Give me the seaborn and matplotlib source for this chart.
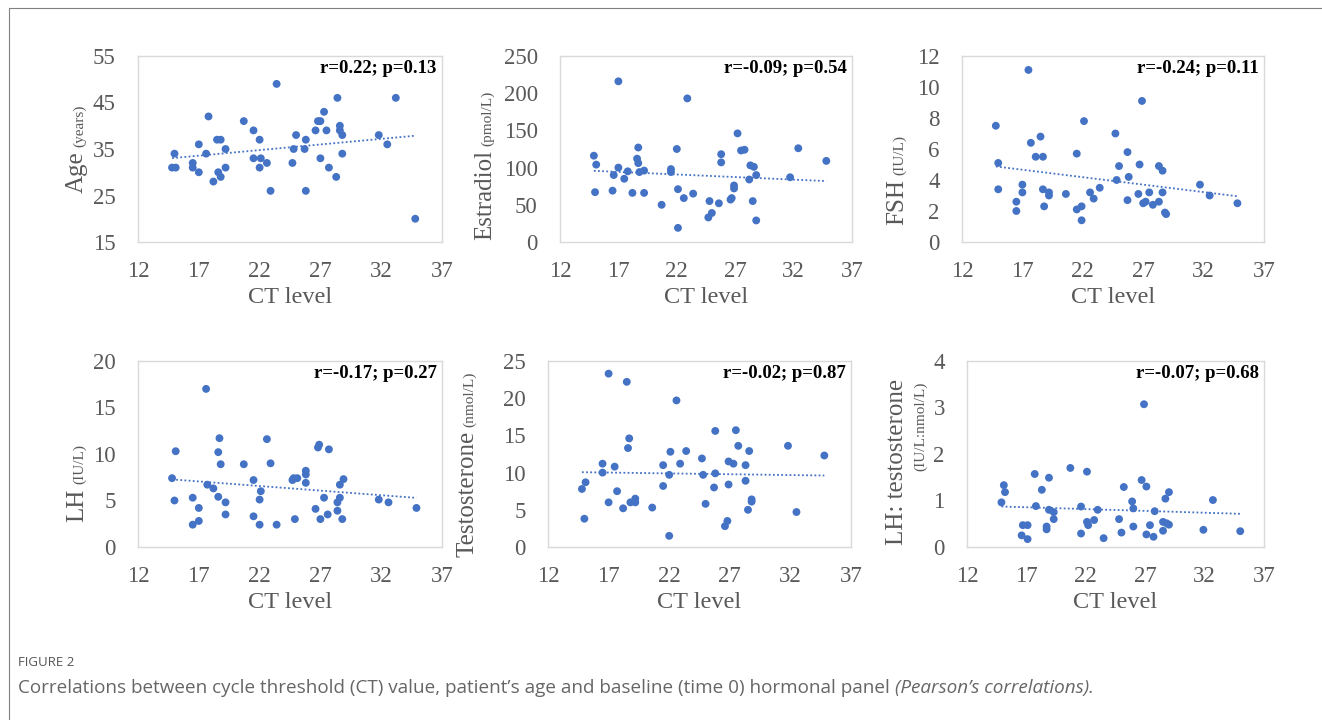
import numpy as np
import pandas as pd
import matplotlib
matplotlib.use("Agg")
import matplotlib.pyplot as plt
from matplotlib.lines import Line2D
import seaborn as sns

# data: CT level (x) against each measure (y)
ct_age = [14.8, 15.1, 15.0, 16.5, 16.5, 17.0, 17.0, 17.8, 17.6, 18.2, 18.5, 18.8, 18.6, 18.8, 19.2, 19.2,
          20.7, 21.5, 21.5, 22.0, 22.1, 22.0, 22.6, 22.9, 23.4, 24.7, 24.8, 25.0, 25.7, 25.8, 25.8, 26.6,
          26.8, 27.0, 27.3, 27.0, 27.5, 27.7, 28.3, 28.4, 28.6, 28.6, 28.8, 28.8, 31.8, 32.5, 33.2, 34.8]
age = [31, 31, 34, 32, 31, 30, 36, 42, 34, 28, 37, 37, 30, 29, 35, 31,
       41, 39, 33, 37, 33, 31, 32, 26, 49, 32, 35, 38, 35, 37, 26, 39,
       41, 41, 43, 33, 39, 31, 29, 46, 39, 40, 38, 34, 38, 36, 46, 20]

ct_e2 = [14.9, 15.1, 15.0, 16.5, 16.6, 17.0, 17.0, 17.5, 17.8, 18.2, 18.6, 18.7, 18.7, 18.8, 19.2, 19.2,
         20.7, 21.5, 21.5, 22.0, 22.1, 22.1, 22.6, 22.9, 23.4, 24.7, 24.8, 25.0, 25.6, 25.8, 25.8, 26.6,
         26.7, 26.9, 26.9, 27.2, 27.5, 27.8, 28.2, 28.3, 28.6, 28.5, 28.8, 28.8, 31.7, 32.4, 34.8]
estradiol = [116, 104, 67, 69, 90, 100, 216, 85, 95, 66, 112, 127, 106, 94, 96, 66,
             50, 98, 94, 125, 19, 71, 59, 193, 65, 33, 55, 39, 52, 118, 107, 57,
             59, 76, 72, 146, 123, 124, 84, 103, 101, 55, 90, 29, 87, 126, 109]

ct_fsh = [14.8, 15.0, 15.0, 16.5, 16.5, 17.0, 17.0, 17.5, 17.7, 18.1, 18.5, 18.7, 18.7, 18.8, 19.2, 19.2,
          20.6, 21.5, 21.5, 21.9, 21.9, 22.1, 22.6, 22.9, 23.4, 24.7, 24.8, 25.0, 25.7, 25.7, 25.8, 26.6,
          26.7, 26.9, 27.0, 27.2, 27.5, 27.8, 28.3, 28.6, 28.3, 28.6, 28.8, 28.9, 31.7, 32.5, 34.8]
fsh = [7.5, 5.1, 3.4, 2.0, 2.6, 3.7, 3.2, 11.1, 6.4, 5.5, 6.8, 5.5, 3.4, 2.3, 3.2, 3.0,
       3.1, 5.7, 2.1, 2.3, 1.4, 7.8, 3.2, 2.8, 3.5, 7.0, 4.0, 4.9, 5.8, 2.7, 4.2, 3.1,
       5.0, 9.1, 2.5, 2.6, 3.2, 2.4, 4.9, 4.6, 2.6, 3.2, 1.9, 1.8, 3.7, 3.0, 2.5]

ct_lh = [14.8, 15.1, 15.0, 16.5, 16.5, 17.0, 17.0, 17.6, 17.7, 18.2, 18.6, 18.6, 18.7, 18.8, 19.2, 19.2,
         20.7, 21.5, 21.5, 22.1, 22.0, 22.0, 22.6, 22.9, 23.4, 24.7, 24.8, 25.1, 24.9, 25.8, 25.8, 25.8,
         26.6, 26.8, 26.9, 27.0, 27.3, 27.6, 27.7, 28.4, 28.4, 28.6, 28.6, 28.8, 28.9, 31.8, 32.6, 34.9]
lh = [7.4, 10.3, 5.0, 5.3, 2.4, 4.2, 2.8, 17.0, 6.7, 6.3, 5.4, 10.2, 11.7, 8.9, 4.8, 3.5,
      8.9, 7.2, 3.3, 6.0, 5.1, 2.4, 11.6, 9.0, 2.4, 7.2, 7.4, 7.4, 3.0, 8.2, 7.8, 6.9,
      4.1, 10.7, 11.0, 3.0, 5.3, 3.5, 10.5, 3.9, 4.8, 5.3, 6.7, 3.0, 7.3, 5.1, 4.8, 4.2]

ct_t = [14.8, 15.1, 15.0, 16.5, 16.5, 17.0, 17.0, 17.5, 17.7, 18.2, 18.5, 18.7, 18.6, 18.8, 19.2, 19.2,
        20.6, 21.5, 21.5, 22.0, 22.1, 22.0, 22.6, 22.9, 23.4, 24.7, 24.8, 25.0, 25.8, 25.8, 25.7, 26.6,
        26.8, 26.9, 26.9, 27.3, 27.5, 27.7, 28.3, 28.3, 28.5, 28.6, 28.8, 28.8, 31.8, 32.5, 34.8]
testosterone = [7.8, 8.7, 3.8, 11.2, 10.0, 23.3, 6.0, 10.8, 7.5, 5.2, 22.2, 14.6, 13.3, 6.0, 6.5, 6.0,
                5.3, 11.0, 8.2, 9.7, 12.8, 1.5, 19.7, 11.2, 12.9, 11.9, 9.7, 5.8, 15.6, 9.9, 8.0, 2.8,
                3.5, 8.4, 11.5, 11.2, 15.7, 13.6, 11.0, 8.9, 5.0, 12.9, 6.4, 6.1, 13.6, 4.7, 12.3]

ct_ratio = [14.9, 15.1, 15.2, 16.6, 16.7, 17.1, 17.1, 17.7, 17.8, 18.3, 18.7, 18.7, 18.9, 18.9, 19.3, 19.3,
            20.7, 21.6, 21.6, 22.1, 22.1, 22.2, 22.7, 23.0, 23.5, 24.8, 25.0, 25.2, 25.9, 26.0, 26.0, 26.7,
            26.9, 27.1, 27.1, 27.4, 27.8, 27.7, 28.5, 28.5, 28.7, 28.8, 29.0, 29.0, 31.9, 32.7, 35.0]
lh_t_ratio = [0.96, 1.33, 1.18, 0.25, 0.47, 0.47, 0.17, 1.57, 0.88, 1.23, 0.44, 0.38, 1.49, 0.80, 0.75, 0.60,
              1.70, 0.29, 0.87, 1.62, 0.54, 0.47, 0.58, 0.80, 0.19, 0.60, 0.31, 1.29, 0.98, 0.83, 0.44, 1.44,
              3.07, 1.30, 0.27, 0.47, 0.77, 0.22, 0.35, 0.54, 1.04, 0.51, 0.48, 1.18, 0.37, 1.01, 0.34]

stats = ["r=0.22; p=0.13", "r=-0.09; p=0.54", "r=-0.24; p=0.11",
         "r=-0.17; p=0.27", "r=-0.02; p=0.87", "r=-0.07; p=0.68"]
y_ticks = [np.arange(15, 56, 10), np.arange(0, 251, 50), np.arange(0, 13, 2),
           np.arange(0, 21, 5), np.arange(0, 26, 5), np.arange(0, 5, 1)]
x_ticks = [12, 17, 22, 27, 32, 37]

W, H = 1322, 720
BLUE = "#4472C4"
GREY = "#595959"

sns.set_style("white")
plt.rcParams["font.family"] = ["Liberation Serif", "DejaVu Serif"]

fig = plt.figure(figsize=(W / 100, H / 100), dpi=100)

# axes boxes in pixels (left, top, right, bottom)
boxes = [(138, 56, 442, 242), (560, 56, 852, 242), (962, 56, 1264, 242),
         (138, 361, 442, 547), (548, 361, 851, 547), (967, 361, 1264, 547)]

panels = [(ct_age, age), (ct_e2, estradiol), (ct_fsh, fsh),
          (ct_lh, lh), (ct_t, testosterone), (ct_ratio, lh_t_ratio)]

# y label: main text, unit, right-edge offset px, bottom offset px
ylabels = [("Age", "(years)", -50, 49), ("Estradiol", "(pmol/L)", -64, 2),
           ("FSH", "(IU/L)", -54, 17), ("LH", "(IU/L)", -50, 25),
           ("Testosterone", "(nmol/L)", -70, -10)]

PT = 72 / 100  # px -> points

for i, (l, t, r, b) in enumerate(boxes):
    ax = fig.add_axes([l / W, 1 - b / H, (r - l) / W, (b - t) / H])
    xs, ys = panels[i]
    df = pd.DataFrame({"ct": xs, "val": ys})
    sns.scatterplot(data=df, x="ct", y="val", ax=ax, color=BLUE, s=32,
                    edgecolor="none", zorder=3)
    sns.regplot(data=df, x="ct", y="val", ax=ax, scatter=False, ci=None,
                truncate=True, color=BLUE,
                line_kws=dict(ls=(0, (1, 1.3)), lw=1.3))
    yt = y_ticks[i]
    ax.set_xlim(12, 37)
    ax.set_ylim(yt[0], yt[-1])
    ax.set_xticks(x_ticks)
    ax.set_yticks(yt)
    ax.tick_params(length=0, labelsize=16.5, labelcolor=GREY)
    ax.tick_params(axis="y", pad=16)
    ax.tick_params(axis="x", pad=14)
    for sp in ax.spines.values():
        sp.set_color("#D9D9D9")
        sp.set_linewidth(1)
    ax.set_xlabel("CT level", fontsize=17.5, color=GREY)
    ax.xaxis.set_label_coords(0.5, -0.244)
    ax.set_ylabel("")
    ax.text(0.983, 0.935, stats[i], transform=ax.transAxes, ha="right",
            va="center", fontsize=13.5, fontweight="bold", color="black")

    if i < 5:
        main, unit, dx, dy = ylabels[i]
        t1 = ax.annotate(main, xy=(0, 0), xycoords="axes fraction",
                         xytext=(dx * PT, dy * PT), textcoords="offset points",
                         rotation=90, ha="right", va="bottom",
                         fontsize=18, color=GREY)
        ax.annotate(unit, xy=(1, 1), xycoords=t1, xytext=(-1.5, 3),
                    textcoords="offset points", rotation=90, ha="right",
                    va="bottom", fontsize=11, color=GREY)
    else:
        ax.annotate("LH: testosterone", xy=(0, 0), xycoords="axes fraction",
                    xytext=(-59 * PT, 2 * PT), textcoords="offset points",
                    rotation=90, ha="right", va="bottom", fontsize=18, color=GREY)
        ax.annotate("(IU/L:nmol/L)", xy=(0, 0), xycoords="axes fraction",
                    xytext=(-40 * PT, 121 * PT), textcoords="offset points",
                    rotation=90, ha="right", va="center", fontsize=11, color=GREY)

# outer frame (left and top edges)
fig.add_artist(Line2D([9 / W, 9 / W], [0, 1 - 8 / H], transform=fig.transFigure,
                      color="#808080", lw=0.8))
fig.add_artist(Line2D([9 / W, 1], [1 - 8 / H, 1 - 8 / H], transform=fig.transFigure,
                      color="#808080", lw=0.8))

# caption
cap_font = ["Open Sans", "DejaVu Sans"]
fig.text(18 / W, 1 - 663 / H, "FIGURE 2", fontsize=9.5, color="#555555",
         family=cap_font, va="center", ha="left")
c1 = fig.text(18 / W, 1 - 688 / H,
              "Correlations between cycle threshold (CT) value, patient\u2019s age and "
              "baseline (time 0) hormonal panel ",
              fontsize=13.6, color="#666666", family=cap_font, va="center", ha="left")
plt.annotate("(Pearson\u2019s correlations).", xy=(1, 0), xycoords=c1,
             xytext=(0, 0), textcoords="offset points", fontsize=13.6,
             color="#666666", family=cap_font, style="italic",
             va="bottom", ha="left", annotation_clip=False)
plt.savefig("out.png", dpi=100)
